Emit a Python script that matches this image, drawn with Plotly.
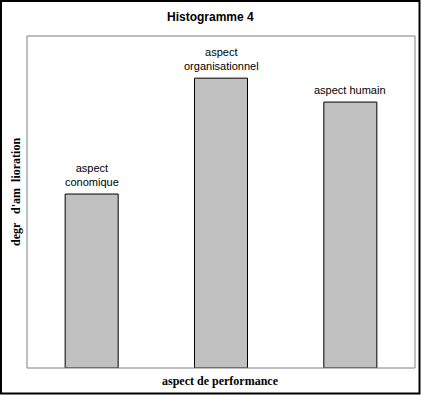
import plotly.graph_objects as go

categories = ["aspect<br>conomique", "aspect<br>organisationnel", "aspect humain"]
values = [52.4, 87.3, 80.1]

W, H = 421, 395
L, R, T, B = 27, 6, 36, 27
pw, ph = W - L - R, H - T - B

def px_x(px):
    return (px - L) / pw

def px_y(py):
    return (H - B - py) / ph

fig = go.Figure()
fig.add_trace(go.Bar(
    x=list(range(len(categories))), y=values, width=0.41,
    marker=dict(color="#c0c0c0", line=dict(color="black", width=1)),
    hoverinfo="skip",
))

annotations = []
for i, (c, v) in enumerate(zip(categories, values)):
    annotations.append(dict(x=i, y=v, xref="x", yref="y", text=c, showarrow=False,
                            yanchor="bottom", yshift=4,
                            font=dict(family="Liberation Sans, Arial", size=11, color="black")))
annotations.append(dict(x=px_x(210), y=px_y(17), xref="paper", yref="paper", text="<b>Histogramme 4</b>",
                        showarrow=False, xanchor="center", yanchor="middle",
                        font=dict(family="Liberation Sans, Arial", size=12, color="black")))
annotations.append(dict(x=px_x(220), y=px_y(381), xref="paper", yref="paper", text="<b>aspect de performance</b>",
                        showarrow=False, xanchor="center", yanchor="middle",
                        font=dict(family="Liberation Serif, Times New Roman", size=12, color="black")))
annotations.append(dict(x=px_x(16), y=px_y(192), xref="paper", yref="paper", text="<b>degr   d'am  lioration</b>",
                        showarrow=False, xanchor="center", yanchor="middle", textangle=-90,
                        font=dict(family="Liberation Serif, Times New Roman", size=12, color="black")))

shapes = [
    dict(type="rect", xref="paper", yref="paper", x0=0, x1=1, y0=0, y1=1,
         line=dict(color="#808080", width=1)),
    dict(type="rect", xref="paper", yref="paper", x0=px_x(1), x1=px_x(419.5), y0=px_y(393.5), y1=px_y(1),
         line=dict(color="black", width=2)),
]

fig.update_layout(
    width=W, height=H,
    margin=dict(l=L, r=R, t=T, b=B),
    paper_bgcolor="white", plot_bgcolor="white",
    showlegend=False,
    hovermode=False,
    xaxis=dict(range=[-0.5, 2.5], showticklabels=False, showgrid=False, zeroline=False, ticks="", fixedrange=True),
    yaxis=dict(range=[0, 100], showticklabels=False, showgrid=False, zeroline=False, ticks="", fixedrange=True),
    annotations=annotations,
    shapes=shapes,
)

fig.write_html("out.html", config={"displayModeBar": False},
               post_script="document.body.style.margin='0';document.body.style.overflow='hidden';")
